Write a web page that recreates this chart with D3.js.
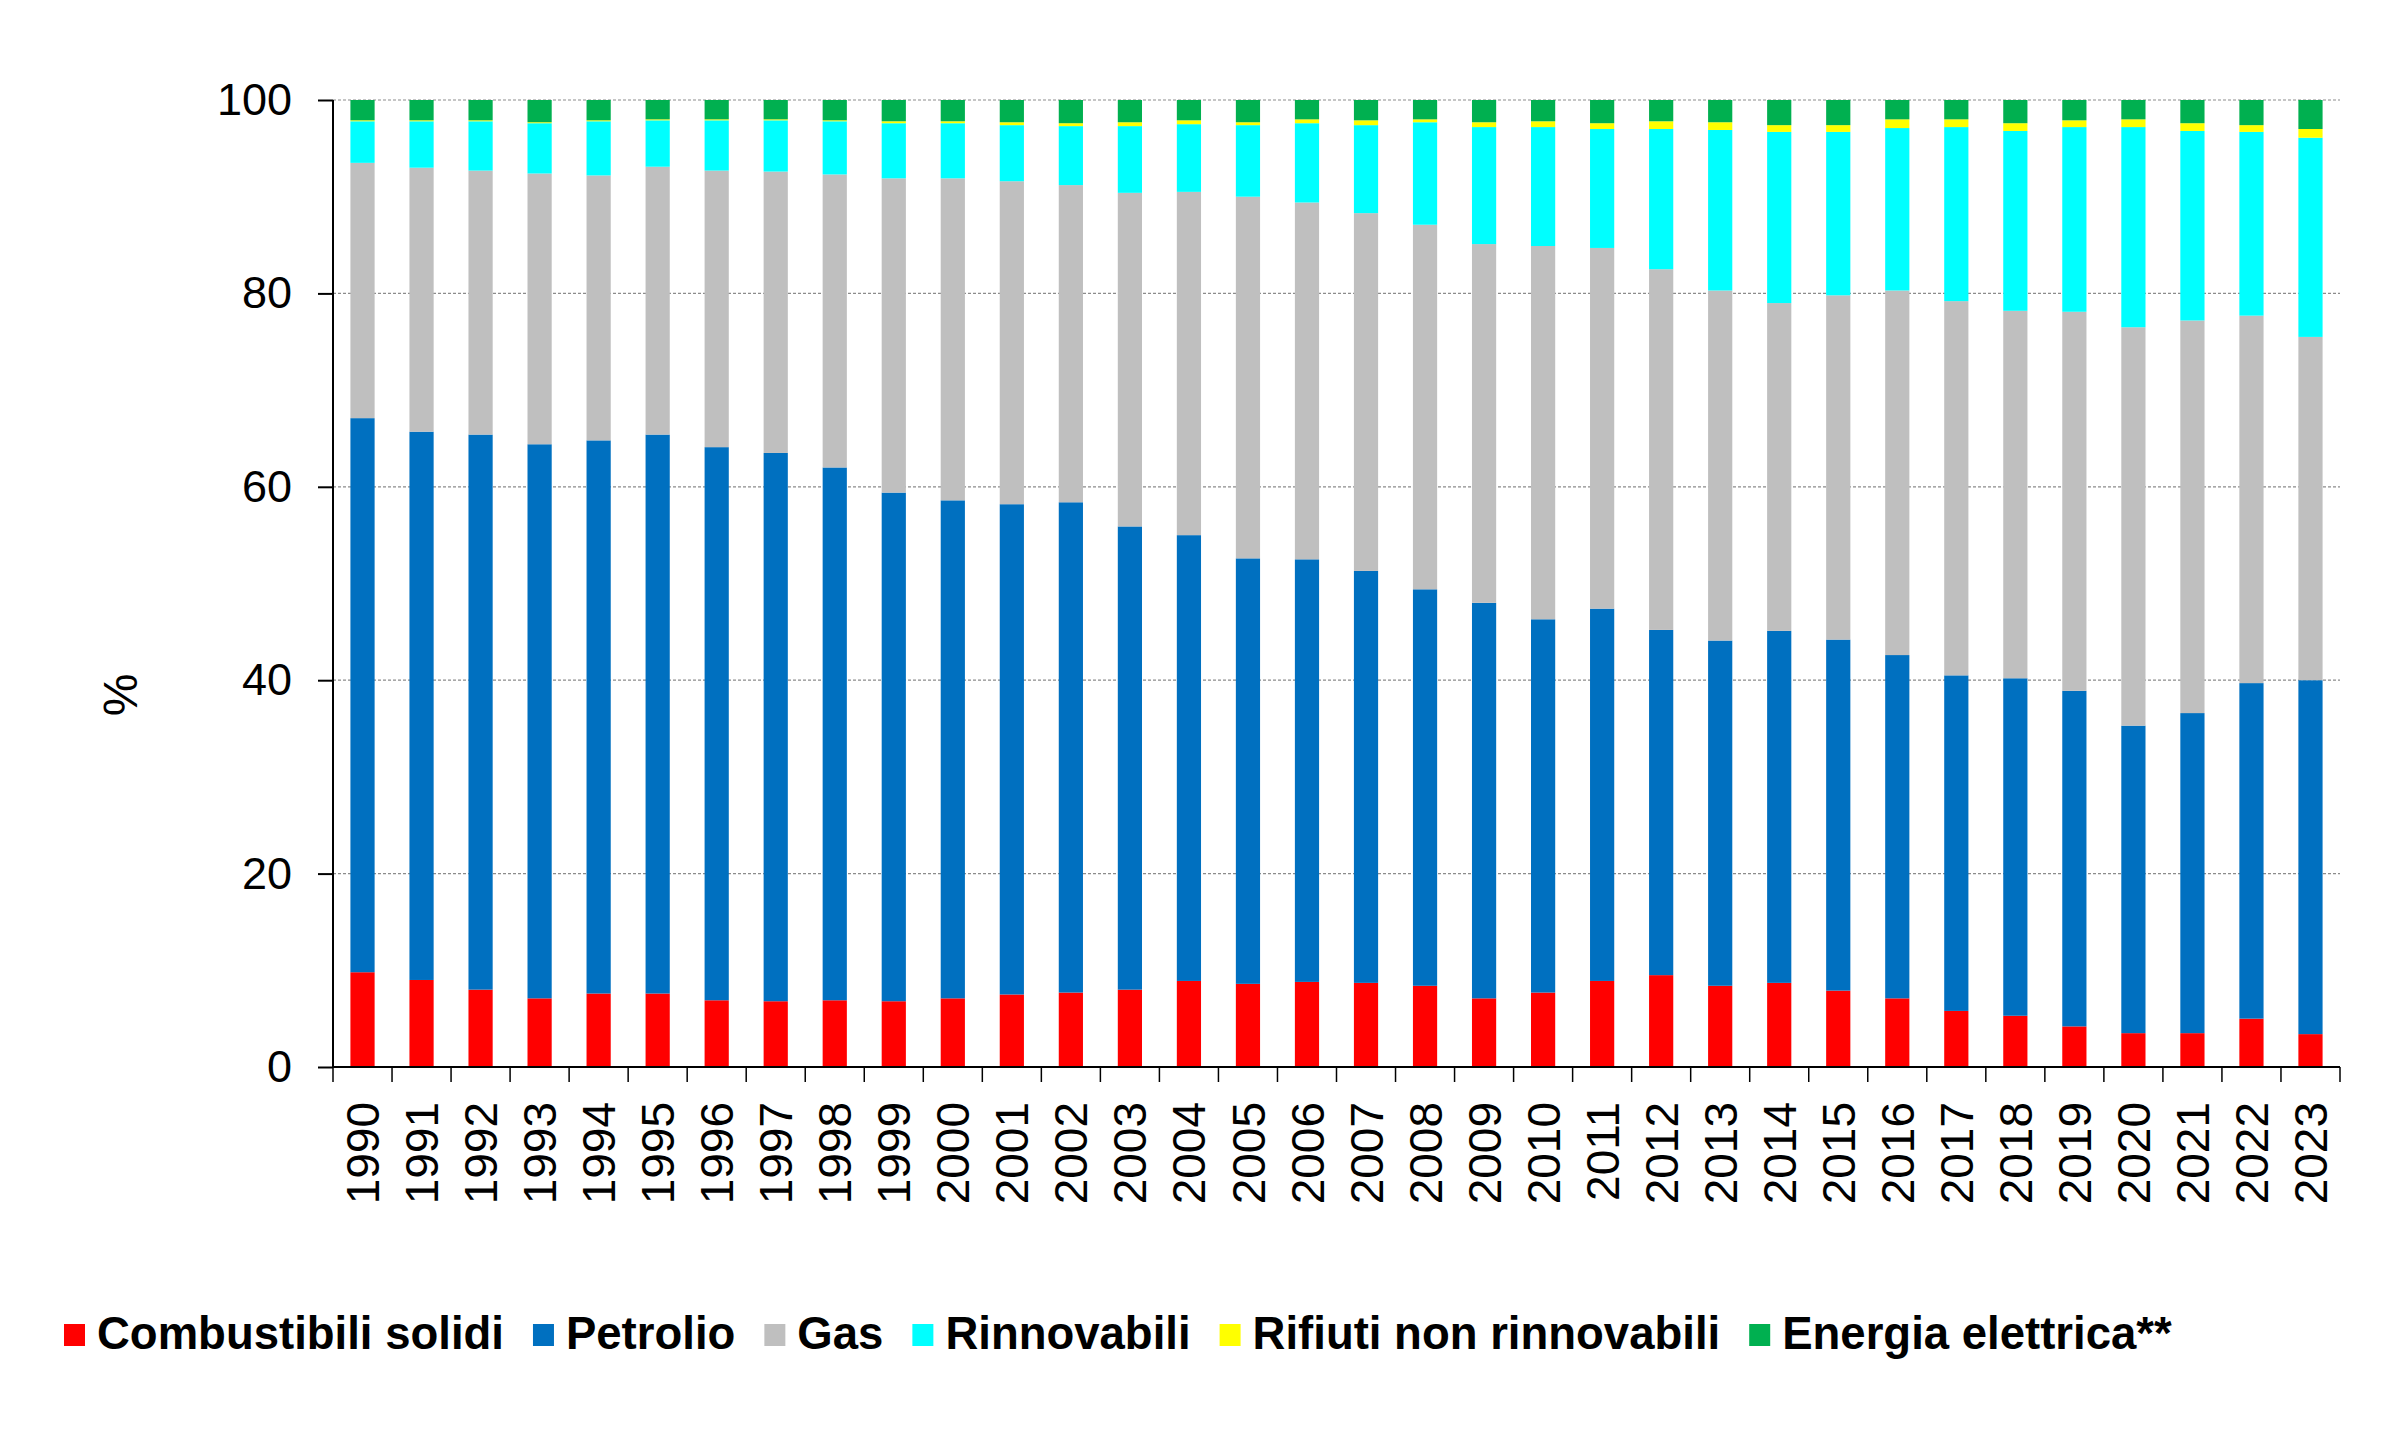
<!DOCTYPE html>
<html>
  <head>
    <meta charset="utf-8">
    <script src="https://d3js.org/d3.v7.min.js"></script>
    <style>
      body { margin: 0; background: #fff; }
      svg { display: block; font-family: "Liberation Sans", Arial, sans-serif; }
    </style>
  </head>
  <body onload="init()">
    <svg width="2390" height="1432"></svg>
  </body>
  <script>
    const years = d3.range(1990, 2024).map(String);

    const seriesNames = ["Combustibili solidi", "Petrolio", "Gas", "Rinnovabili", "Rifiuti non rinnovabili", "Energia elettrica**"];
    const seriesColors = ["#ff0000", "#0070c0", "#bfbfbf", "#00ffff", "#ffff00", "#00b050"];

    const solidi = [9.8, 9.0, 8.0, 7.1, 7.6, 7.6, 6.9, 6.8, 6.9, 6.8, 7.1, 7.5, 7.7, 8.0, 8.9, 8.6, 8.8, 8.7, 8.4, 7.1,
      7.7, 8.9, 9.5, 8.4, 8.7, 7.9, 7.1, 5.8, 5.3, 4.2, 3.5, 3.5, 5.0, 3.4];
    const petrolio = [57.3, 56.7, 57.4, 57.3, 57.2, 57.8, 57.2, 56.7, 55.1, 52.6, 51.5, 50.7, 50.7, 47.9, 46.1, 44.0, 43.7, 42.6, 41.0, 40.9,
      38.6, 38.5, 35.7, 35.7, 36.4, 36.3, 35.5, 34.7, 34.9, 34.7, 31.8, 33.1, 34.7, 36.6];
    const gas = [26.4, 27.3, 27.3, 28.0, 27.4, 27.7, 28.6, 29.1, 30.3, 32.5, 33.3, 33.4, 32.8, 34.5, 35.5, 37.4, 36.9, 37.0, 37.7, 37.1,
      38.6, 37.3, 37.3, 36.2, 33.9, 35.6, 37.7, 38.7, 38.0, 39.2, 41.2, 40.6, 38.0, 35.5];
    const rinnovabili = [4.3, 4.8, 5.1, 5.2, 5.6, 4.8, 5.2, 5.3, 5.5, 5.7, 5.7, 5.8, 6.1, 6.9, 7.0, 7.4, 8.2, 9.1, 10.6, 12.1,
      12.3, 12.3, 14.5, 16.6, 17.7, 16.9, 16.8, 18.0, 18.6, 19.1, 20.7, 19.6, 19.0, 20.6];
    const rifiuti = [0.1, 0.1, 0.1, 0.1, 0.1, 0.1, 0.1, 0.1, 0.1, 0.2, 0.2, 0.3, 0.3, 0.4, 0.4, 0.3, 0.4, 0.5, 0.3, 0.5,
      0.6, 0.6, 0.8, 0.8, 0.7, 0.7, 0.9, 0.8, 0.8, 0.7, 0.8, 0.8, 0.7, 0.9];
    const elettrica = [2.1, 2.1, 2.1, 2.3, 2.1, 2.0, 2.0, 2.0, 2.1, 2.2, 2.2, 2.3, 2.4, 2.3, 2.1, 2.3, 2.0, 2.1, 2.0, 2.3,
      2.2, 2.4, 2.2, 2.3, 2.6, 2.6, 2.0, 2.0, 2.4, 2.1, 2.0, 2.4, 2.6, 3.0];

    const yTicks = [0, 20, 40, 60, 80, 100];

    function init() {
      const svg = d3.select("svg");
      const series = [solidi, petrolio, gas, rinnovabili, rifiuti, elettrica];

      const left = 333, right = 2340, top = 100, bottom = 1067;

      const rows = years.map((y, i) => {
        const r = { year: y };
        seriesNames.forEach((n, k) => r[n] = series[k][i]);
        return r;
      });
      const stacked = d3.stack().keys(seriesNames)(rows);

      const x = d3.scaleBand().domain(years).range([left, right]).padding(0);
      const y = d3.scaleLinear().domain([0, 100]).range([bottom, top]);
      const color = d3.scaleOrdinal().domain(seriesNames).range(seriesColors);
      const bw = x.bandwidth() * 0.41;

      // grid
      svg.append("g").selectAll("line").data(yTicks.filter(t => t > 0))
        .join("line")
        .attr("x1", left).attr("x2", right)
        .attr("y1", d => y(d)).attr("y2", d => y(d))
        .attr("stroke", "#8c8c8c").attr("stroke-width", 1.2)
        .attr("stroke-dasharray", "3,2");

      // bars
      svg.append("g").selectAll("g").data(stacked)
        .join("g")
        .attr("fill", d => color(d.key))
        .selectAll("rect").data(d => d)
        .join("rect")
        .attr("x", d => x(d.data.year) + (x.bandwidth() - bw) / 2)
        .attr("width", bw)
        .attr("y", d => y(d[1]))
        .attr("height", d => y(d[0]) - y(d[1]));

      // y axis
      const yAxis = svg.append("g")
        .attr("transform", `translate(${left},0)`)
        .call(d3.axisLeft(y).tickValues(yTicks).tickSize(15).tickPadding(26));
      yAxis.selectAll("line, path").attr("stroke", "#000").attr("stroke-width", 2);
      yAxis.select(".domain").attr("d", `M0,${top}V${bottom}`);
      yAxis.selectAll("text").attr("font-size", 45).attr("fill", "#000")
        .attr("font-family", "Liberation Sans, Arial, sans-serif");

      // x axis
      const xAxis = svg.append("g")
        .attr("transform", `translate(0,${bottom})`);
      xAxis.append("line")
        .attr("x1", left).attr("x2", right)
        .attr("stroke", "#000").attr("stroke-width", 2);
      xAxis.selectAll(".tk").data(years.concat(["end"]))
        .join("line").attr("class", "tk")
        .attr("x1", (d, i) => i < years.length ? x(d) : right)
        .attr("x2", (d, i) => i < years.length ? x(d) : right)
        .attr("y1", 0).attr("y2", 15)
        .attr("stroke", "#000").attr("stroke-width", 1.5);
      xAxis.selectAll("text").data(years)
        .join("text")
        .attr("transform", d => `translate(${x(d) + x.bandwidth() / 2},35) rotate(-90)`)
        .attr("text-anchor", "end")
        .attr("dy", "0.36em")
        .attr("font-size", 46)
        .text(d => d);

      svg.append("text")
        .attr("transform", "translate(120,695) rotate(-90)")
        .attr("text-anchor", "middle")
        .attr("dy", "0.36em")
        .attr("font-size", 48)
        .text("%");

      // legend
      const legend = svg.append("g");
      let lx = 64;
      seriesNames.forEach(n => {
        legend.append("rect")
          .attr("x", lx).attr("y", 1324)
          .attr("width", 21).attr("height", 22)
          .attr("fill", color(n));
        const t = legend.append("text")
          .attr("x", lx + 33).attr("y", 1349)
          .attr("font-size", 45.5).attr("font-weight", "bold")
          .text(n);
        lx += 33 + t.node().getComputedTextLength() + 29;
      });
    }
  </script>
</html>
